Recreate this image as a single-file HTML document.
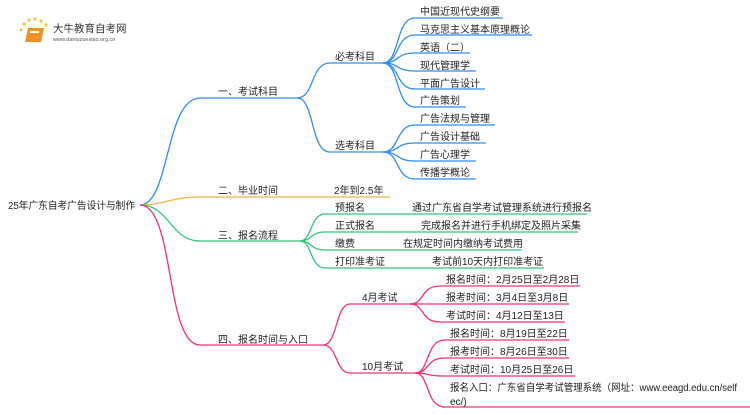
<!DOCTYPE html>
<html><head><meta charset="utf-8"><style>
html,body{margin:0;padding:0;background:#fff;}
svg text{font-family:"Liberation Sans","Noto Sans CJK SC",sans-serif;font-size:10px;fill:#222;}
</style></head><body>
<svg width="750" height="410" viewBox="0 0 750 410" xmlns="http://www.w3.org/2000/svg">
<g>
<circle cx="24" cy="24" r="1.6" fill="#f7c24a"/><circle cx="29" cy="20" r="1.6" fill="#f7c24a"/><circle cx="35" cy="19" r="1.6" fill="#f7c24a"/><circle cx="41" cy="21" r="1.6" fill="#f7c24a"/><circle cx="46" cy="25" r="1.6" fill="#f7c24a"/><circle cx="21" cy="30" r="1.4" fill="#f7c24a"/>
<path d="M28 28 L44 28 L41 42 L25 42 Z" fill="#f0902a"/>
<rect x="30" y="31" width="9" height="2" fill="#fff"/>
<text x="53" y="32" style="font-size:10.5px;fill:#333">大牛教育自考网</text>
<text x="53" y="41" style="font-size:5.5px;fill:#555">www.daniuzuexiao.org.cn</text>
</g>
<g fill="none" stroke-width="1.3">
<g stroke="#2e8ef5">
<path d="M140 205 C170 205,165 98,200 98 L297 98"/>
<path d="M297 98 C315 98,310 63,330 63 L383 63"/>
<path d="M297 98 C315 98,310 152,330 152 L383 152"/>
<path d="M383 63 C400 63,395 18,415 18 L503 18"/>
<path d="M383 63 C400 63,395 35,415 35 L532 35"/>
<path d="M383 63 C400 63,395 53,415 53 L470 53"/>
<path d="M383 63 C400 63,395 71,415 71 L476 71"/>
<path d="M383 63 C400 63,395 89,415 89 L485 89"/>
<path d="M383 63 C400 63,395 107,415 107 L466 107"/>
<path d="M383 152 C400 152,395 125,415 125 L495 125"/>
<path d="M383 152 C400 152,395 143,415 143 L486 143"/>
<path d="M383 152 C400 152,395 161,415 161 L476 161"/>
<path d="M383 152 C400 152,395 179,415 179 L476 179"/>
</g>
<path stroke="#f5b43a" d="M140 205 C165 205,170 197,200 197 L390 197"/>
<g stroke="#34c47a">
<path d="M140 205 C170 205,170 241,200 241 L300 241"/>
<path d="M300 241 C312 241,310 214,325 214 L587 214"/>
<path d="M300 241 C312 241,310 232,325 232 L578 232"/>
<path d="M300 241 C312 241,310 250,325 250 L522 250"/>
<path d="M300 241 C312 241,310 268,325 268 L544 268"/>
</g>
<g stroke="#f2307c">
<path d="M140 205 C175 205,165 345,200 345 L323 345"/>
<path d="M323 345 C338 345,335 304,350 304 L410 304"/>
<path d="M323 345 C338 345,335 373,350 373 L415 373"/>
<path d="M410 304 C425 304,420 286,440 286 L580 286"/>
<path d="M410 304 L569 304"/>
<path d="M410 304 C425 304,420 322,440 322 L565 322"/>
<path d="M415 373 C430 373,425 340,445 340 L569 340"/>
<path d="M415 373 C430 373,425 358,445 358 L569 358"/>
<path d="M415 373 C430 373,425 376,445 376 L575 376"/>
<path d="M415 373 C430 373,425 407,445 407 L750 407"/>
</g>
</g>
<text x="8" y="209" textLength="127" lengthAdjust="spacingAndGlyphs">25年广东自考广告设计与制作</text>
<text x="218" y="95">一、考试科目</text>
<text x="335" y="60">必考科目</text>
<text x="335" y="149">选考科目</text>
<text x="420" y="15">中国近现代史纲要</text>
<text x="420" y="33">马克思主义基本原理概论</text>
<text x="420" y="51">英语（二）</text>
<text x="420" y="69">现代管理学</text>
<text x="420" y="87">平面广告设计</text>
<text x="420" y="104">广告策划</text>
<text x="420" y="122">广告法规与管理</text>
<text x="420" y="140">广告设计基础</text>
<text x="420" y="158">广告心理学</text>
<text x="420" y="176">传播学概论</text>
<text x="218" y="194">二、毕业时间</text>
<text x="334" y="194">2年到2.5年</text>
<text x="218" y="239">三、报名流程</text>
<text x="335" y="211">预报名</text>
<text x="412" y="211">通过广东省自学考试管理系统进行预报名</text>
<text x="335" y="229">正式报名</text>
<text x="421" y="229">完成报名并进行手机绑定及照片采集</text>
<text x="335" y="247">缴费</text>
<text x="403" y="247">在规定时间内缴纳考试费用</text>
<text x="335" y="265">打印准考证</text>
<text x="432" y="265">考试前10天内打印准考证</text>
<text x="218" y="343">四、报名时间与入口</text>
<text x="362" y="301">4月考试</text>
<text x="362" y="370">10月考试</text>
<text x="446" y="283">报名时间：2月25日至2月28日</text>
<text x="446" y="301">报考时间：3月4日至3月8日</text>
<text x="446" y="319">考试时间：4月12日至13日</text>
<text x="450" y="337">报名时间：8月19日至22日</text>
<text x="450" y="355">报考时间：8月26日至30日</text>
<text x="450" y="373">考试时间：10月25日至26日</text>
<text x="450" y="391" textLength="287" lengthAdjust="spacingAndGlyphs">报名入口：广东省自学考试管理系统（网址：www.eeagd.edu.cn/self</text>
<text x="450" y="405">ec/)</text>
</svg>
</body></html>
